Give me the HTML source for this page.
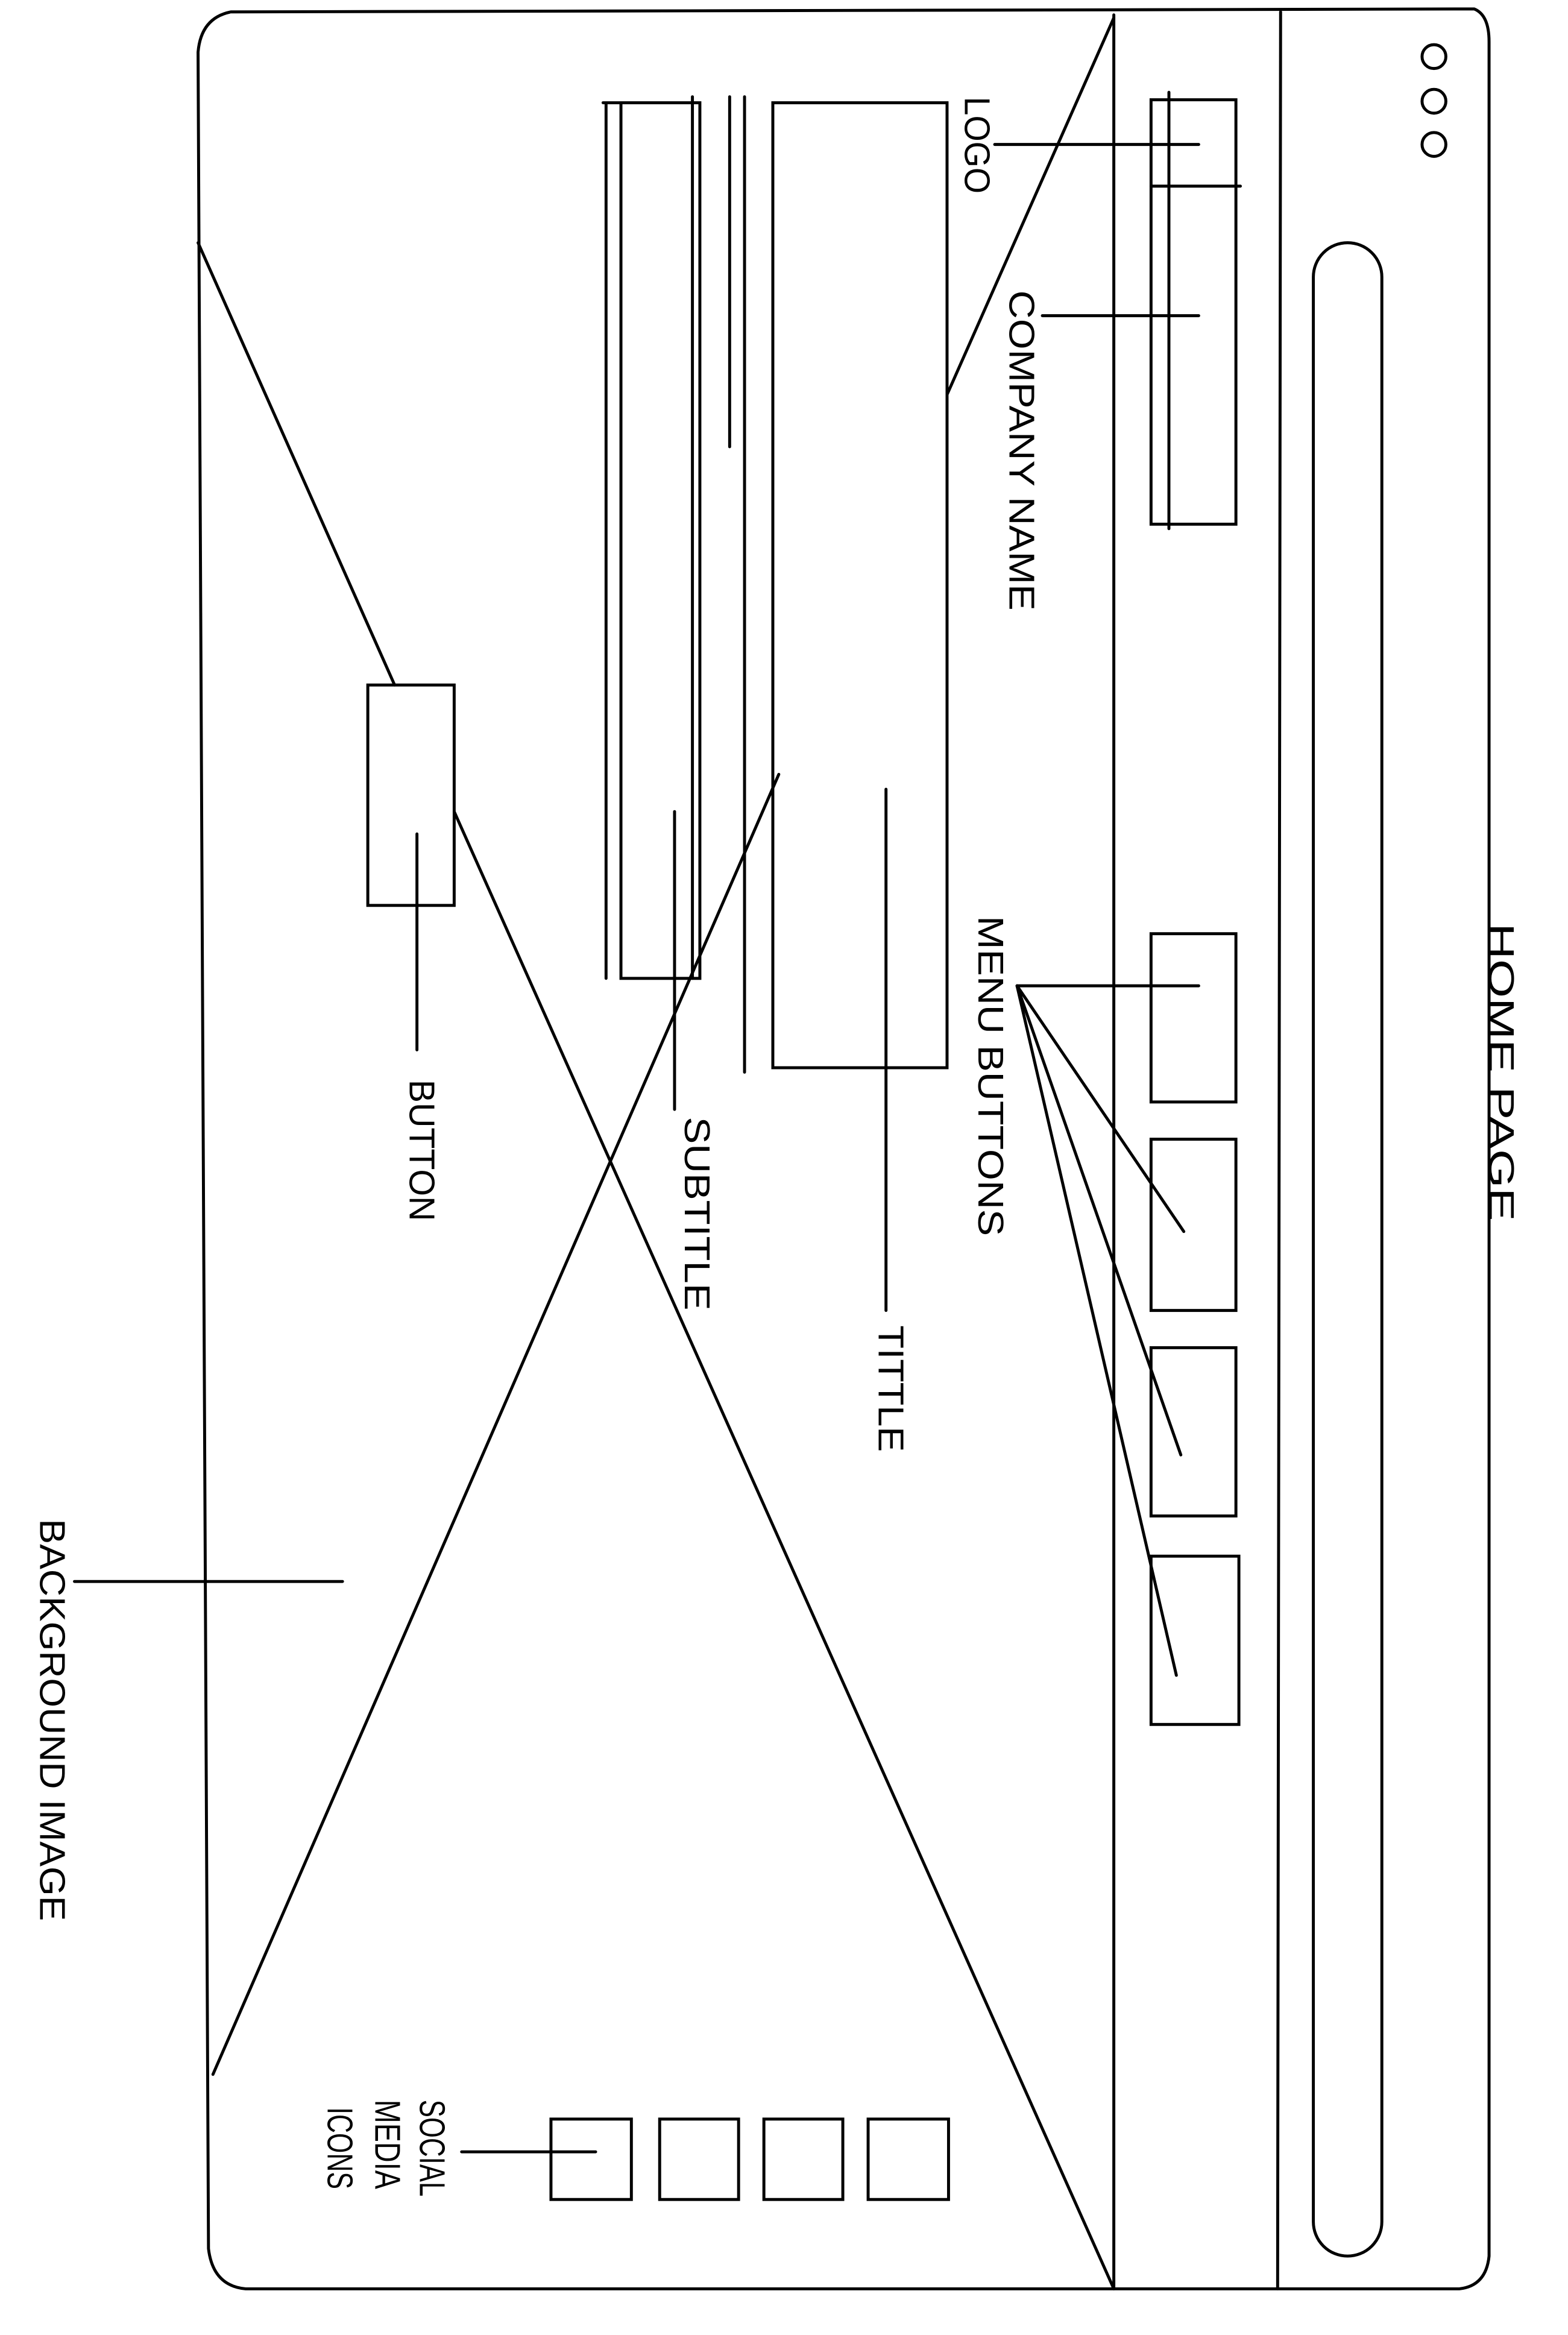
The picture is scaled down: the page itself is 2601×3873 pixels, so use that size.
<!DOCTYPE html>
<html><head><meta charset="utf-8"><style>
html,body{margin:0;padding:0;background:#fff;}
svg{display:block;}
text{font-family:"Liberation Sans",sans-serif;font-size:24px;fill:#000;}
</style></head><body>
<svg width="2601" height="3873" viewBox="0 0 1053 1568" xmlns="http://www.w3.org/2000/svg">
<g fill="none" stroke="#000" stroke-width="2" stroke-linecap="round">
<!-- outer frame -->
<path d="M155,8 L990,6 Q1000,10 1000,28 L1000,1515 Q998,1535 980,1537 L165,1537 Q143,1535 140,1510 L133,35 Q135,12 155,8 Z"/>
<line x1="748" y1="10" x2="748" y2="1537"/>
<line x1="860" y1="8" x2="858" y2="1537"/>
<circle cx="963" cy="38" r="8"/><circle cx="963" cy="68" r="8"/><circle cx="963" cy="97" r="8"/>
<rect x="882" y="163" width="46" height="1352" rx="23"/>
<!-- X lines -->
<line x1="748" y1="12" x2="636" y2="265"/>
<line x1="523" y1="520" x2="143" y2="1393"/>
<line x1="133" y1="163" x2="265" y2="460"/>
<line x1="305" y1="545" x2="748" y2="1537"/>
<!-- logo/company box -->
<rect x="773" y="67" width="57" height="285"/>
<line x1="785" y1="62" x2="785" y2="355"/>
<line x1="773" y1="125" x2="833" y2="125"/>
<!-- menu buttons -->
<rect x="773" y="627" width="57" height="113"/>
<rect x="773" y="765" width="57" height="115"/>
<rect x="773" y="905" width="57" height="113"/>
<rect x="773" y="1045" width="59" height="113"/>
<!-- title / subtitle -->
<rect x="519" y="69" width="117" height="648"/>
<line x1="500" y1="65" x2="500" y2="720"/>
<line x1="490" y1="65" x2="490" y2="300"/>
<rect x="417" y="69" width="53" height="588"/>
<line x1="465" y1="65" x2="465" y2="657"/>
<line x1="405" y1="69" x2="417" y2="69"/>
<line x1="407" y1="69" x2="407" y2="657"/>
<!-- button -->
<rect x="247" y="460" width="58" height="148"/>
<!-- social icons -->
<rect x="370" y="1423" width="54" height="54"/>
<rect x="443" y="1423" width="53" height="54"/>
<rect x="513" y="1423" width="53" height="54"/>
<rect x="583" y="1423" width="54" height="54"/>
<!-- leaders -->
<line x1="668" y1="97" x2="805" y2="97"/>
<line x1="700" y1="212" x2="805" y2="212"/>
<line x1="683" y1="662" x2="805" y2="662"/>
<line x1="683" y1="662" x2="795" y2="827"/>
<line x1="683" y1="662" x2="793" y2="977"/>
<line x1="683" y1="662" x2="790" y2="1125"/>
<line x1="595" y1="530" x2="595" y2="880"/>
<line x1="453" y1="545" x2="453" y2="745"/>
<line x1="280" y1="560" x2="280" y2="705"/>
<line x1="50" y1="1062" x2="230" y2="1062"/>
<line x1="310" y1="1445" x2="400" y2="1445"/>
</g>
<g>
<text transform="translate(1000,620) rotate(90)" textLength="200" lengthAdjust="spacingAndGlyphs">HOME PAGE</text>
<text transform="translate(648,65) rotate(90)" textLength="65" lengthAdjust="spacingAndGlyphs">LOGO</text>
<text transform="translate(678,195) rotate(90)" textLength="215" lengthAdjust="spacingAndGlyphs">COMPANY NAME</text>
<text transform="translate(657,615) rotate(90)" textLength="215" lengthAdjust="spacingAndGlyphs">MENU BUTTONS</text>
<text transform="translate(590,890) rotate(90)" textLength="85" lengthAdjust="spacingAndGlyphs">TITTLE</text>
<text transform="translate(460,750) rotate(90)" textLength="130" lengthAdjust="spacingAndGlyphs">SUBTITLE</text>
<text transform="translate(275,725) rotate(90)" textLength="95" lengthAdjust="spacingAndGlyphs">BUTTON</text>
<text transform="translate(27,1020) rotate(90)" textLength="270" lengthAdjust="spacingAndGlyphs">BACKGROUND IMAGE</text>
<text transform="translate(282,1410) rotate(90)" textLength="65" lengthAdjust="spacingAndGlyphs">SOCIAL</text>
<text transform="translate(252,1410) rotate(90)" textLength="60" lengthAdjust="spacingAndGlyphs">MEDIA</text>
<text transform="translate(220,1415) rotate(90)" textLength="55" lengthAdjust="spacingAndGlyphs">ICONS</text>
</g>
</svg>
</body></html>
